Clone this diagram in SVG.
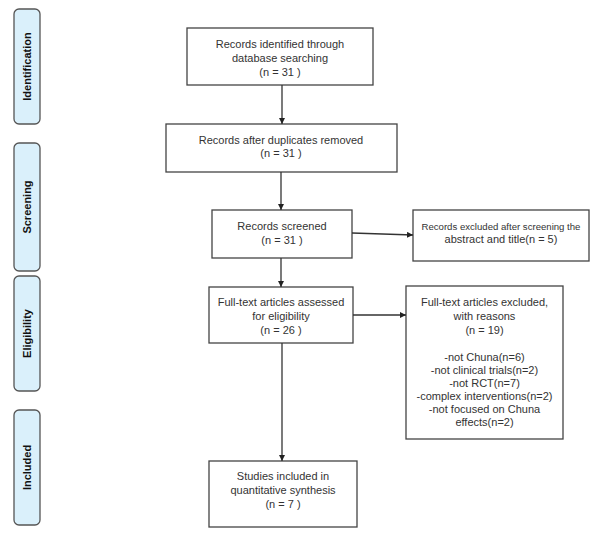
<svg xmlns="http://www.w3.org/2000/svg" width="601" height="544" viewBox="0 0 601 544">
<style>
.box{fill:#fff;stroke:#444;stroke-width:1.3}
.side{fill:#daf0fb;stroke:#555;stroke-width:1.3}
.t{font-family:"Liberation Sans",Arial,sans-serif;font-size:11px;fill:#333;text-anchor:middle}
.sm{font-size:9.6px}
.s{font-family:"Liberation Sans",Arial,sans-serif;font-size:11px;font-weight:bold;fill:#111;text-anchor:middle}
.c{stroke:#333;stroke-width:1.3;fill:none;marker-end:url(#ah)}
</style>
<defs>
<marker id="ah" viewBox="0 0 10 10" refX="10" refY="5" markerWidth="6" markerHeight="6" orient="auto" markerUnits="userSpaceOnUse">
<path d="M0,0 L10,5 L0,10 z" fill="#222"/>
</marker>
</defs>
<rect width="601" height="544" fill="#fff"/>
<g id="side-identification"><rect class="side" x="14" y="9" width="26" height="115" rx="5"/><text class="s" transform="translate(31,66.5) rotate(-90)">Identification</text></g>
<g id="side-screening"><rect class="side" x="14" y="143" width="26" height="128" rx="5"/><text class="s" transform="translate(31,207) rotate(-90)">Screening</text></g>
<g id="side-eligibility"><rect class="side" x="14" y="276" width="26" height="115" rx="5"/><text class="s" transform="translate(31,333.5) rotate(-90)">Eligibility</text></g>
<g id="side-included"><rect class="side" x="14" y="410" width="26" height="115" rx="5"/><text class="s" transform="translate(31,467.5) rotate(-90)">Included</text></g>

<g id="n1"><rect class="box" x="187" y="28" width="186" height="57"/>
<text class="t" x="280" y="48">Records identified through</text>
<text class="t" x="280" y="62">database searching</text>
<text class="t" x="280" y="76">(n = 31 )</text></g>
<g id="n2"><rect class="box" x="166" y="124" width="231" height="48"/>
<text class="t" x="281" y="144">Records after duplicates removed</text>
<text class="t" x="281" y="157">(n = 31 )</text></g>
<g id="n3"><rect class="box" x="212" y="210" width="140" height="48"/>
<text class="t" x="282" y="230">Records screened</text>
<text class="t" x="282" y="244">(n = 31 )</text></g>
<g id="n4"><rect class="box" x="413" y="210" width="176" height="51"/>
<text class="t sm" x="501" y="230">Records excluded after screening the</text>
<text class="t" x="501" y="243">abstract and title(n = 5)</text></g>
<g id="n5"><rect class="box" x="209" y="287" width="144" height="56"/>
<text class="t" x="281" y="306">Full-text articles assessed</text>
<text class="t" x="281" y="320">for eligibility</text>
<text class="t" x="281" y="334">(n = 26 )</text></g>
<g id="n6"><rect class="box" x="406" y="286" width="157" height="153"/>
<text class="t" x="484.5" y="306">Full-text articles excluded,</text>
<text class="t" x="484.5" y="320">with reasons</text>
<text class="t" x="484.5" y="334">(n = 19)</text>
<text class="t" x="484.5" y="361">-not Chuna(n=6)</text>
<text class="t" x="484.5" y="374">-not clinical trials(n=2)</text>
<text class="t" x="484.5" y="387">-not RCT(n=7)</text>
<text class="t" x="484.5" y="400">-complex interventions(n=2)</text>
<text class="t" x="484.5" y="413">-not focused on Chuna</text>
<text class="t" x="484.5" y="426">effects(n=2)</text></g>
<g id="n7"><rect class="box" x="209" y="461" width="148" height="66"/>
<text class="t" x="283" y="480">Studies included in</text>
<text class="t" x="283" y="494">quantitative synthesis</text>
<text class="t" x="283" y="508">(n = 7 )</text></g>

<g id="connectors">
<line class="c" x1="282" y1="85" x2="282" y2="124"/>
<line class="c" x1="281" y1="172" x2="281" y2="210"/>
<line class="c" x1="352" y1="233" x2="413" y2="235"/>
<line class="c" x1="281" y1="258" x2="281" y2="287"/>
<line class="c" x1="353" y1="315" x2="406" y2="315"/>
<line class="c" x1="282" y1="343" x2="282" y2="461"/>
</g>
</svg>
